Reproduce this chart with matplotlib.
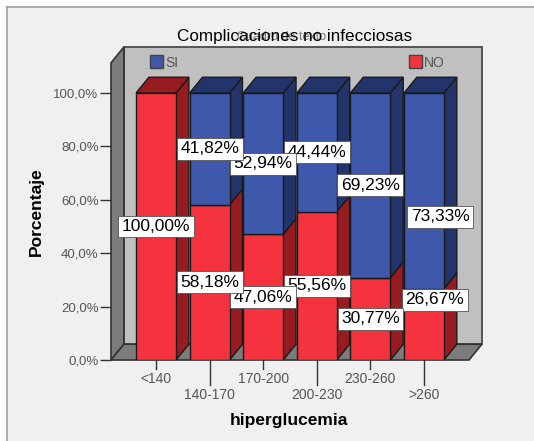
import numpy as np
import matplotlib
matplotlib.use('Agg')
import matplotlib.pyplot as plt
from matplotlib.lines import Line2D
from matplotlib.patches import Polygon, Rectangle

W, H = 534, 441

categorias = ['<140', '140-170', '170-200', '200-230', '230-260', '>260']
no_vals = [100.00, 58.18, 47.06, 55.56, 30.77, 26.67]
si_vals = [0.00, 41.82, 52.94, 44.44, 69.23, 73.33]
yticks = [0, 20, 40, 60, 80, 100]
ytick_labels = ['0,0%', '20,0%', '40,0%', '60,0%', '80,0%', '100,0%']

ROJO, ROJO_L = '#f5333f', '#961c22'
AZUL, AZUL_L = '#3e58ac', '#23346b'
BORDE = '#1a1a1a'

plt.rcParams['font.family'] = 'Liberation Sans'

fig = plt.figure(figsize=(W / 100, H / 100), dpi=100, facecolor='white')
# fondo gris con marco arriba e izquierda
fig.add_artist(Rectangle((7 / W, 0), 1 - 7 / W, 1 - 7 / H, transform=fig.transFigure, fc='#f0f0f0', ec='none', zorder=-2))
fig.add_artist(Line2D([7 / W, 7 / W], [0, 1 - 7 / H], transform=fig.transFigure, color='#a0a0a0', lw=1.2, zorder=-1))
fig.add_artist(Line2D([7 / W, 1], [1 - 7 / H, 1 - 7 / H], transform=fig.transFigure, color='#a0a0a0', lw=1.2, zorder=-1))

ax = fig.add_axes([111 / W, 1 - 360 / H, 358 / W, 267 / H])
ax.set_xlim(-0.84, 5.84)
ax.set_ylim(0, 100)
ax.patch.set_visible(False)
for s in ax.spines.values():
    s.set_visible(False)

# profundidad 3D en unidades de datos
dx, dy = 0.24, 5.9
ancho = 0.373
techo = 111.3
x0, x1 = -0.84, 5.84


def poly(pts, color, z=1, ec=BORDE, lw=1.0):
    ax.add_patch(Polygon(pts, closed=True, fc=color, ec=ec, lw=lw, zorder=z, clip_on=False))


# paredes
poly([(x0 + dx, dy), (x1 + dx, dy), (x1 + dx, techo + dy), (x0 + dx, techo + dy)], '#c0c0c0', 1, '#555555', 1.4)
poly([(x0, 0), (x0 + dx, dy), (x0 + dx, techo + dy), (x0, techo)], '#7c7c7c', 1, '#333333', 1.2)
poly([(x0, 0), (x1, 0), (x1 + dx, dy), (x0 + dx, dy)], '#7c7c7c', 1, '#333333', 1.2)

for i in range(len(categorias)):
    l, r = i - ancho, i + ancho
    z = 2 + i
    n = no_vals[i]
    # cara lateral roja y tapa superior de la pila
    poly([(r, 0), (r + dx, dy), (r + dx, n + dy), (r, n)], ROJO_L, z)
    if si_vals[i] > 0:
        poly([(r, n), (r + dx, n + dy), (r + dx, 100 + dy), (r, 100)], AZUL_L, z)
    tapa = AZUL_L if si_vals[i] > 0 else ROJO_L
    poly([(l, 100), (r, 100), (r + dx, 100 + dy), (l + dx, 100 + dy)], tapa, z)
    ax.bar(i, n, width=2 * ancho, color=ROJO, edgecolor=BORDE, linewidth=1.0, zorder=z + 0.1)
    if si_vals[i] > 0:
        ax.bar(i, si_vals[i], bottom=n, width=2 * ancho, color=AZUL, edgecolor=BORDE, linewidth=1.0, zorder=z + 0.1)

# etiquetas de datos: la ultima columna va desplazada como en el original
for i in range(len(categorias)):
    for j, (y, v) in enumerate([(no_vals[i] / 2, no_vals[i]), (no_vals[i] + si_vals[i] / 2, si_vals[i])]):
        if v <= 0:
            continue
        x_et = i
        if i == 5:
            x_et = i + (0.2 if j == 0 else 0.3)
            y = y + (9.2 if j == 0 else -9.7)
        ax.text(x_et, y, ('%.2f%%' % v).replace('.', ','), fontsize=12.5, color='black',
                ha='center', va='center', zorder=40 - i, clip_on=False,
                bbox=dict(boxstyle='square,pad=0.2', fc='white', ec='#555555', lw=0.6))

# ejes
ax.set_yticks(yticks)
ax.set_yticklabels(ytick_labels, fontsize=9.5, color='#555555')
ax.tick_params(axis='y', length=8, width=1, color='#333333', pad=1)
ax.set_xticks(range(len(categorias)))
ax.set_xticklabels(categorias, fontsize=10, color='#555555')
ax.tick_params(axis='x', length=0, pad=0)
for i, lab in enumerate(ax.get_xticklabels()):
    largo = 9 if i % 2 == 0 else 25
    ax.plot([i, i], [0, -largo / 2.67], color='#333333', lw=1, clip_on=False, zorder=1)
    lab.set_y(-(largo + 3) / 267)
fig.text(36 / W, 1 - 212 / H, 'Porcentaje', fontsize=12.5, fontweight='bold', rotation=90, ha='center', va='center')
fig.text(289 / W, 1 - 420 / H, 'hiperglucemia', fontsize=12.5, fontweight='bold', ha='center', va='center')

# titulos
fig.text(282 / W, 1 - 37 / H, 'Cuadro de texto', fontsize=9, color='#777777', ha='center', va='center')
fig.text(295 / W, 1 - 37 / H, 'Complicaciones no infecciosas', fontsize=12.3, ha='center', va='center')

# leyenda
fig.add_artist(Rectangle((150 / W, 1 - 68 / H), 13 / W, 13 / H, transform=fig.transFigure, fc=AZUL, ec='#444444', lw=1))
fig.text(165 / W, 1 - 63 / H, 'SI', fontsize=10, color='#555555', va='center')
fig.add_artist(Rectangle((409 / W, 1 - 68 / H), 13 / W, 13 / H, transform=fig.transFigure, fc=ROJO, ec='#444444', lw=1))
fig.text(424 / W, 1 - 63 / H, 'NO', fontsize=10, color='#555555', va='center')

fig.savefig('out.png', dpi=100, facecolor=fig.get_facecolor())
